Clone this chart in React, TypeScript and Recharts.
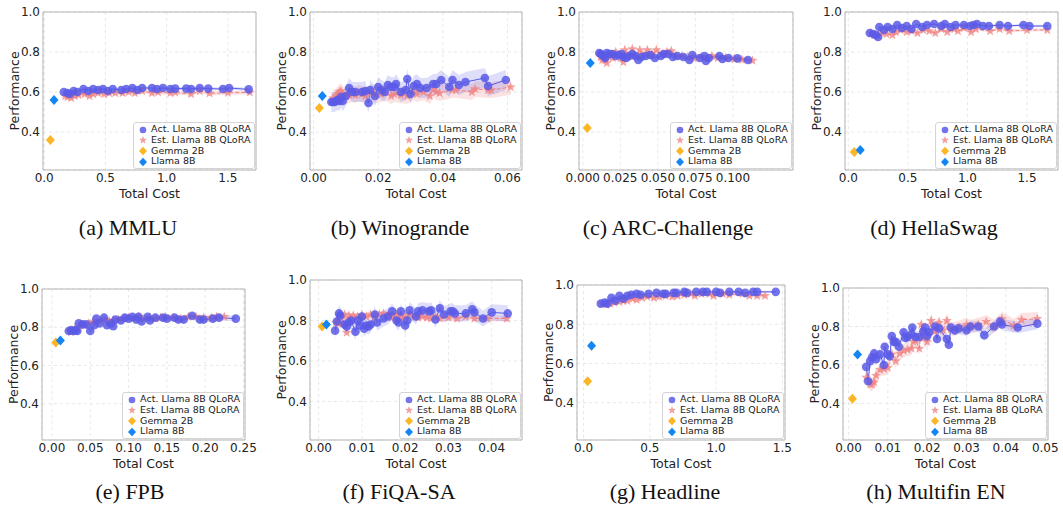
import { ComposedChart, XAxis, YAxis, CartesianGrid, Line, Area, Scatter, ReferenceArea } from 'recharts';

type Pt = [number, number];

const Y_TICKS = [0.4, 0.6, 0.8, 1.0];
const Y_DOMAIN: [number, number] = [0.21, 1.0];

const ACT_COLOR = '#5a5ae6';
const EST_COLOR = '#f08080';
const GEMMA_COLOR = '#fbb525';
const LLAMA_COLOR = '#1485f5';

const LEGEND_LABELS = ['Act. Llama 8B QLoRA', 'Est. Llama 8B QLoRA', 'Gemma 2B', 'Llama 8B'];

// (a) MMLU
const mmluAct: Pt[] = [
  [0.16, 0.60], [0.19, 0.595], [0.21, 0.59], [0.24, 0.605], [0.27, 0.60], [0.32, 0.615], [0.36, 0.605],
  [0.40, 0.615], [0.44, 0.61], [0.48, 0.615], [0.52, 0.605], [0.56, 0.615], [0.63, 0.61], [0.67, 0.615],
  [0.72, 0.62], [0.76, 0.61], [0.80, 0.62], [0.88, 0.62], [0.92, 0.615], [0.97, 0.62], [1.03, 0.615],
  [1.07, 0.617], [1.16, 0.617], [1.20, 0.615], [1.27, 0.62], [1.34, 0.617], [1.46, 0.615], [1.51, 0.62],
  [1.67, 0.613],
];
const mmluEst: Pt[] = [
  [0.17, 0.58], [0.19, 0.575], [0.22, 0.57], [0.25, 0.58], [0.28, 0.585], [0.33, 0.59], [0.37, 0.58],
  [0.40, 0.59], [0.44, 0.595], [0.49, 0.59], [0.53, 0.595], [0.58, 0.595], [0.64, 0.595], [0.69, 0.60],
  [0.74, 0.595], [0.80, 0.605], [0.88, 0.595], [0.93, 0.598], [1.03, 0.595], [1.07, 0.597], [1.20, 0.59],
  [1.27, 0.605], [1.35, 0.593], [1.50, 0.596], [1.68, 0.598],
];
const mmluGemma: Pt = [0.05, 0.36];
const mmluLlama: Pt = [0.08, 0.56];
const mmluTicks = [0, 0.5, 1.0, 1.5];

// (b) Winogrande
const winoAct: Pt[] = [
  [0.0055, 0.55], [0.006, 0.55], [0.0065, 0.55], [0.007, 0.555], [0.0075, 0.56], [0.008, 0.555], [0.0085, 0.575],
  [0.009, 0.555], [0.010, 0.58], [0.011, 0.62], [0.012, 0.60], [0.013, 0.60], [0.015, 0.60], [0.016, 0.605],
  [0.017, 0.545], [0.0175, 0.61], [0.019, 0.58], [0.020, 0.625], [0.021, 0.61], [0.022, 0.60], [0.023, 0.635],
  [0.024, 0.625], [0.025, 0.625], [0.0255, 0.64], [0.027, 0.60], [0.0285, 0.61], [0.029, 0.665], [0.030, 0.59],
  [0.031, 0.63], [0.032, 0.64], [0.033, 0.62], [0.035, 0.62], [0.037, 0.64], [0.038, 0.64], [0.0395, 0.66],
  [0.042, 0.625], [0.043, 0.66], [0.045, 0.635], [0.047, 0.65], [0.053, 0.67], [0.054, 0.63], [0.0595, 0.66],
];
const winoEst: Pt[] = [
  [0.006, 0.57], [0.007, 0.58], [0.0075, 0.59], [0.008, 0.60], [0.0085, 0.605], [0.009, 0.59], [0.010, 0.58],
  [0.011, 0.585], [0.012, 0.59], [0.013, 0.585], [0.014, 0.595], [0.015, 0.59], [0.016, 0.58], [0.018, 0.60],
  [0.019, 0.585], [0.021, 0.59], [0.022, 0.60], [0.024, 0.58], [0.025, 0.59], [0.027, 0.585], [0.029, 0.58],
  [0.031, 0.60], [0.032, 0.59], [0.034, 0.60], [0.036, 0.58], [0.037, 0.615], [0.038, 0.60], [0.039, 0.595],
  [0.043, 0.61], [0.044, 0.61], [0.049, 0.60], [0.050, 0.615], [0.054, 0.61], [0.055, 0.61], [0.061, 0.625],
];
const winoGemma: Pt = [0.0018, 0.52];
const winoLlama: Pt = [0.0027, 0.58];
const winoTicks = [0, 0.02, 0.04, 0.06];

// (c) ARC-Challenge
const arcAct: Pt[] = [
  [0.011, 0.795], [0.012, 0.79], [0.013, 0.785], [0.014, 0.78], [0.015, 0.77], [0.016, 0.795], [0.018, 0.79],
  [0.020, 0.79], [0.022, 0.78], [0.024, 0.785], [0.026, 0.79], [0.027, 0.775], [0.029, 0.77], [0.031, 0.78],
  [0.033, 0.79], [0.035, 0.78], [0.037, 0.76], [0.039, 0.775], [0.042, 0.78], [0.045, 0.785], [0.048, 0.77],
  [0.052, 0.78], [0.054, 0.79], [0.057, 0.79], [0.060, 0.775], [0.063, 0.78], [0.067, 0.775], [0.071, 0.76],
  [0.073, 0.785], [0.078, 0.77], [0.081, 0.78], [0.082, 0.755], [0.084, 0.77], [0.091, 0.78], [0.093, 0.765],
  [0.097, 0.77], [0.103, 0.768], [0.110, 0.76],
];
const arcEst: Pt[] = [
  [0.012, 0.775], [0.013, 0.76], [0.015, 0.76], [0.016, 0.745], [0.017, 0.78], [0.020, 0.77], [0.022, 0.80],
  [0.025, 0.77], [0.027, 0.75], [0.028, 0.81], [0.030, 0.78], [0.033, 0.815], [0.035, 0.78], [0.038, 0.81],
  [0.040, 0.785], [0.043, 0.81], [0.046, 0.79], [0.049, 0.81], [0.053, 0.79], [0.056, 0.80], [0.059, 0.805],
  [0.062, 0.78], [0.066, 0.78], [0.070, 0.775], [0.074, 0.77], [0.079, 0.775], [0.083, 0.77], [0.086, 0.78],
  [0.090, 0.77], [0.095, 0.77], [0.101, 0.765], [0.106, 0.762], [0.113, 0.757],
];
const arcGemma: Pt = [0.003, 0.42];
const arcLlama: Pt = [0.005, 0.745];
const arcTicks = [0, 0.025, 0.05, 0.075, 0.1];

// (d) HellaSwag
const hellaAct: Pt[] = [
  [0.18, 0.895], [0.21, 0.89], [0.23, 0.885], [0.25, 0.875], [0.26, 0.925], [0.30, 0.91], [0.33, 0.925],
  [0.37, 0.915], [0.41, 0.935], [0.45, 0.92], [0.49, 0.93], [0.53, 0.915], [0.57, 0.94], [0.62, 0.925],
  [0.66, 0.935], [0.72, 0.94], [0.78, 0.93], [0.81, 0.94], [0.86, 0.925], [0.90, 0.935], [0.97, 0.935],
  [1.02, 0.93], [1.05, 0.935], [1.08, 0.94], [1.13, 0.93], [1.18, 0.93], [1.27, 0.935], [1.34, 0.93],
  [1.47, 0.935], [1.52, 0.93], [1.67, 0.93],
];
const hellaEst: Pt[] = [
  [0.19, 0.895], [0.22, 0.885], [0.25, 0.88], [0.28, 0.895], [0.32, 0.89], [0.37, 0.885], [0.40, 0.90],
  [0.44, 0.91], [0.49, 0.90], [0.53, 0.905], [0.58, 0.895], [0.63, 0.91], [0.68, 0.905], [0.73, 0.895],
  [0.78, 0.915], [0.83, 0.90], [0.89, 0.915], [0.92, 0.905], [0.97, 0.92], [1.03, 0.90], [1.07, 0.915],
  [1.19, 0.905], [1.27, 0.915], [1.35, 0.905], [1.50, 0.91], [1.67, 0.91],
];
const hellaGemma: Pt = [0.05, 0.30];
const hellaLlama: Pt = [0.10, 0.31];
const hellaTicks = [0, 0.5, 1.0, 1.5];

// (e) FPB
const fpbAct: Pt[] = [
  [0.022, 0.78], [0.025, 0.785], [0.028, 0.78], [0.031, 0.785], [0.033, 0.78], [0.035, 0.82], [0.040, 0.815],
  [0.045, 0.815], [0.050, 0.78], [0.055, 0.81], [0.058, 0.845], [0.062, 0.82], [0.068, 0.85], [0.072, 0.81],
  [0.077, 0.82], [0.080, 0.805], [0.083, 0.84], [0.090, 0.835], [0.095, 0.85], [0.100, 0.845], [0.105, 0.855],
  [0.110, 0.84], [0.113, 0.855], [0.117, 0.83], [0.125, 0.855], [0.128, 0.835], [0.135, 0.85], [0.145, 0.85],
  [0.150, 0.845], [0.160, 0.85], [0.165, 0.84], [0.172, 0.84], [0.183, 0.86], [0.193, 0.84], [0.198, 0.84],
  [0.210, 0.845], [0.218, 0.85], [0.240, 0.845],
];
const fpbEst: Pt[] = [
  [0.025, 0.775], [0.030, 0.79], [0.034, 0.79], [0.037, 0.81], [0.042, 0.81], [0.048, 0.82], [0.054, 0.83],
  [0.058, 0.825], [0.064, 0.835], [0.070, 0.84], [0.075, 0.83], [0.080, 0.835], [0.087, 0.84], [0.094, 0.845],
  [0.100, 0.85], [0.107, 0.845], [0.113, 0.855], [0.120, 0.845], [0.128, 0.85], [0.135, 0.845], [0.142, 0.85],
  [0.148, 0.855], [0.158, 0.85], [0.168, 0.845], [0.178, 0.855], [0.188, 0.855], [0.198, 0.85], [0.208, 0.85],
  [0.215, 0.855], [0.225, 0.855],
];
const fpbGemma: Pt = [0.005, 0.72];
const fpbLlama: Pt = [0.011, 0.73];
const fpbTicks = [0, 0.05, 0.1, 0.15, 0.2, 0.25];

// (f) FiQA-SA
const fiqaAct: Pt[] = [
  [0.0038, 0.75], [0.0042, 0.795], [0.0047, 0.835], [0.005, 0.825], [0.006, 0.78], [0.0065, 0.77], [0.007, 0.79],
  [0.0075, 0.80], [0.0085, 0.745], [0.009, 0.80], [0.0095, 0.775], [0.010, 0.82], [0.0105, 0.76], [0.011, 0.775],
  [0.0115, 0.77], [0.012, 0.78], [0.013, 0.83], [0.0135, 0.79], [0.015, 0.81], [0.016, 0.82], [0.017, 0.845],
  [0.018, 0.80], [0.0185, 0.79], [0.019, 0.845], [0.020, 0.775], [0.0205, 0.80], [0.021, 0.85], [0.0225, 0.82],
  [0.023, 0.845], [0.024, 0.85], [0.0255, 0.845], [0.026, 0.85], [0.027, 0.805], [0.028, 0.86], [0.029, 0.83],
  [0.0305, 0.845], [0.031, 0.845], [0.0315, 0.835], [0.034, 0.835], [0.0355, 0.855], [0.036, 0.84], [0.038, 0.81],
  [0.040, 0.84], [0.0437, 0.835],
];
const fiqaEst: Pt[] = [
  [0.004, 0.79], [0.0045, 0.785], [0.005, 0.79], [0.0055, 0.785], [0.006, 0.83], [0.0065, 0.74], [0.007, 0.825],
  [0.0075, 0.81], [0.008, 0.825], [0.009, 0.82], [0.010, 0.825], [0.011, 0.82], [0.012, 0.83], [0.013, 0.815],
  [0.014, 0.83], [0.015, 0.835], [0.016, 0.825], [0.017, 0.815], [0.018, 0.83], [0.019, 0.815], [0.020, 0.82],
  [0.021, 0.83], [0.022, 0.82], [0.023, 0.815], [0.024, 0.82], [0.025, 0.815], [0.026, 0.81], [0.027, 0.82],
  [0.028, 0.81], [0.030, 0.815], [0.032, 0.81], [0.034, 0.82], [0.036, 0.81], [0.039, 0.81], [0.0435, 0.81],
];
const fiqaGemma: Pt = [0.0008, 0.77];
const fiqaLlama: Pt = [0.0018, 0.78];
const fiqaTicks = [0, 0.01, 0.02, 0.03, 0.04];

// (g) Headline
const headAct: Pt[] = [
  [0.13, 0.905], [0.16, 0.91], [0.18, 0.905], [0.21, 0.935], [0.24, 0.92], [0.27, 0.945], [0.30, 0.93],
  [0.33, 0.945], [0.36, 0.95], [0.40, 0.955], [0.43, 0.95], [0.49, 0.955], [0.55, 0.96], [0.60, 0.955],
  [0.62, 0.955], [0.68, 0.96], [0.70, 0.96], [0.76, 0.965], [0.78, 0.96], [0.85, 0.965], [0.90, 0.965],
  [0.93, 0.965], [1.00, 0.965], [1.03, 0.96], [1.10, 0.965], [1.17, 0.965], [1.22, 0.96], [1.28, 0.965],
  [1.31, 0.965], [1.45, 0.965],
];
const headEst: Pt[] = [
  [0.14, 0.905], [0.17, 0.90], [0.20, 0.905], [0.23, 0.91], [0.27, 0.915], [0.30, 0.92], [0.33, 0.92],
  [0.37, 0.93], [0.40, 0.925], [0.44, 0.935], [0.48, 0.94], [0.53, 0.935], [0.57, 0.94], [0.62, 0.945],
  [0.67, 0.94], [0.71, 0.945], [0.76, 0.95], [0.81, 0.955], [0.84, 0.945], [0.89, 0.955], [0.95, 0.955],
  [0.98, 0.945], [1.05, 0.955], [1.10, 0.95], [1.20, 0.955], [1.25, 0.945], [1.31, 0.945], [1.37, 0.945],
];
const headGemma: Pt = [0.03, 0.51];
const headLlama: Pt = [0.06, 0.69];
const headTicks = [0, 0.5, 1.0, 1.5];

// (h) Multifin EN
const mfinAct: Pt[] = [
  [0.0045, 0.59], [0.005, 0.515], [0.0055, 0.62], [0.006, 0.64], [0.0065, 0.66], [0.007, 0.63], [0.008, 0.655],
  [0.009, 0.60], [0.0092, 0.695], [0.010, 0.655], [0.0105, 0.645], [0.011, 0.75], [0.0115, 0.72], [0.012, 0.72],
  [0.0128, 0.695], [0.014, 0.77], [0.0145, 0.74], [0.015, 0.745], [0.016, 0.76], [0.0162, 0.795], [0.017, 0.745],
  [0.018, 0.745], [0.019, 0.775], [0.0195, 0.795], [0.020, 0.75], [0.0205, 0.77], [0.022, 0.80], [0.0225, 0.735],
  [0.023, 0.79], [0.025, 0.735], [0.0255, 0.705], [0.026, 0.795], [0.027, 0.78], [0.028, 0.79], [0.030, 0.78],
  [0.031, 0.80], [0.033, 0.80], [0.0345, 0.755], [0.037, 0.80], [0.0385, 0.825], [0.039, 0.81], [0.043, 0.795],
  [0.048, 0.815],
];
const mfinEst: Pt[] = [
  [0.0045, 0.535], [0.0055, 0.50], [0.006, 0.50], [0.0065, 0.51], [0.007, 0.545], [0.008, 0.575], [0.009, 0.58],
  [0.010, 0.585], [0.011, 0.655], [0.012, 0.62], [0.013, 0.66], [0.014, 0.675], [0.015, 0.68], [0.016, 0.685],
  [0.0165, 0.72], [0.017, 0.73], [0.018, 0.685], [0.0185, 0.81], [0.019, 0.74], [0.020, 0.72], [0.021, 0.83],
  [0.022, 0.775], [0.023, 0.82], [0.024, 0.78], [0.025, 0.83], [0.026, 0.785], [0.028, 0.795], [0.030, 0.81],
  [0.031, 0.80], [0.033, 0.81], [0.035, 0.825], [0.037, 0.80], [0.039, 0.84], [0.042, 0.805], [0.044, 0.835],
  [0.048, 0.84],
];
const mfinGemma: Pt = [0.001, 0.425];
const mfinLlama: Pt = [0.0023, 0.655];
const mfinTicks = [0, 0.01, 0.02, 0.03, 0.04, 0.05];

// half-widths of the shaded bands [act, est]
const bandSpread: Record<string, [number, number]> = {
  mmlu: [0.008, 0.01],
  wino: [0.05, 0.04],
  arc: [0.01, 0.015],
  hella: [0.006, 0.008],
  fpb: [0.015, 0.015],
  fiqa: [0.04, 0.015],
  head: [0.006, 0.01],
  mfin: [0.03, 0.035],
};

interface PanelCfg {
  key: string;
  caption: string;
  act: Pt[];
  est: Pt[];
  gemma: Pt;
  llama: Pt;
  ticks: number[];
  dec: number;
  xDomain: [number, number];
  plot: { l: number; t: number; r: number; b: number };
  capX: number;
  capY: number;
}

const PANELS: PanelCfg[] = [
  { key: 'mmlu', caption: '(a) MMLU', act: mmluAct, est: mmluEst, gemma: mmluGemma, llama: mmluLlama, ticks: mmluTicks, dec: 1, xDomain: [-0.01, 1.73], plot: { l: 43, t: 12, r: 256, b: 170 }, capX: 128, capY: 228 },
  { key: 'wino', caption: '(b) Winogrande', act: winoAct, est: winoEst, gemma: winoGemma, llama: winoLlama, ticks: winoTicks, dec: 2, xDomain: [-0.0011, 0.0645], plot: { l: 310, t: 12, r: 522, b: 170 }, capX: 400, capY: 228 },
  { key: 'arc', caption: '(c) ARC-Challenge', act: arcAct, est: arcEst, gemma: arcGemma, llama: arcLlama, ticks: arcTicks, dec: 3, xDomain: [-0.0025, 0.14], plot: { l: 579, t: 12, r: 793, b: 170 }, capX: 668, capY: 228 },
  { key: 'hella', caption: '(d) HellaSwag', act: hellaAct, est: hellaEst, gemma: hellaGemma, llama: hellaLlama, ticks: hellaTicks, dec: 1, xDomain: [-0.028, 1.76], plot: { l: 845, t: 12, r: 1058, b: 170 }, capX: 934, capY: 228 },
  { key: 'fpb', caption: '(e) FPB', act: fpbAct, est: fpbEst, gemma: fpbGemma, llama: fpbLlama, ticks: fpbTicks, dec: 2, xDomain: [-0.013, 0.252], plot: { l: 42, t: 289, r: 245, b: 440 }, capX: 130, capY: 492 },
  { key: 'fiqa', caption: '(f) FiQA-SA', act: fiqaAct, est: fiqaEst, gemma: fiqaGemma, llama: fiqaLlama, ticks: fiqaTicks, dec: 2, xDomain: [-0.002, 0.047], plot: { l: 310, t: 280, r: 522, b: 440 }, capX: 399, capY: 492 },
  { key: 'head', caption: '(g) Headline', act: headAct, est: headEst, gemma: headGemma, llama: headLlama, ticks: headTicks, dec: 1, xDomain: [-0.05, 1.52], plot: { l: 577, t: 285, r: 785, b: 440 }, capX: 665, capY: 492 },
  { key: 'mfin', caption: '(h) Multifin EN', act: mfinAct, est: mfinEst, gemma: mfinGemma, llama: mfinLlama, ticks: mfinTicks, dec: 2, xDomain: [-0.0014, 0.0507], plot: { l: 843, t: 288, r: 1048, b: 440 }, capX: 936, capY: 492 },
];

const FONT = "'DejaVu Sans', sans-serif";

const dot = (p: any) => (
  <circle cx={p.cx} cy={p.cy} r={4.3} fill={ACT_COLOR} fillOpacity={0.85} />
);

function starPath(cx: number, cy: number, ro: number, ri: number) {
  let d = '';
  for (let i = 0; i < 10; i++) {
    const r = i % 2 === 0 ? ro : ri;
    const a = -Math.PI / 2 + (i * Math.PI) / 5;
    d += (i === 0 ? 'M' : 'L') + (cx + r * Math.cos(a)).toFixed(2) + ',' + (cy + r * Math.sin(a)).toFixed(2);
  }
  return d + 'Z';
}

const star = (p: any) => <path d={starPath(p.cx, p.cy, 5.2, 2.2)} fill={EST_COLOR} fillOpacity={0.75} />;

const diamond = (color: string) => (p: any) => (
  <path d={`M${p.cx},${p.cy - 5}L${p.cx + 4.5},${p.cy}L${p.cx},${p.cy + 5}L${p.cx - 4.5},${p.cy}Z`} fill={color} />
);

function LegendBox() {
  const icons = [
    <circle cx={5} cy={5} r={3.3} fill={ACT_COLOR} fillOpacity={0.85} />,
    <path d={starPath(5, 5.3, 4.2, 1.8)} fill={EST_COLOR} fillOpacity={0.75} />,
    <path d="M5,0.8L9,5L5,9.2L1,5Z" fill={GEMMA_COLOR} />,
    <path d="M5,0.8L9,5L5,9.2L1,5Z" fill={LLAMA_COLOR} />,
  ];
  return (
    <div
      style={{
        padding: '1px 3px 1px 4px',
        border: '1px solid #d4d4d4', borderRadius: 3, background: 'rgba(255,255,255,0.85)',
        fontFamily: FONT, fontSize: 9.5, color: '#222', lineHeight: '10.7px',
      }}
    >
      {LEGEND_LABELS.map((lab, i) => (
        <div key={lab} style={{ display: 'flex', alignItems: 'center', whiteSpace: 'nowrap' }}>
          <svg width={10} height={10} style={{ marginRight: 3 }}>{icons[i]}</svg>
          {lab}
        </div>
      ))}
    </div>
  );
}

const ML = 45, MT = 10, MR = 14, XH = 34;

function Panel({ cfg }: { cfg: PanelCfg }) {
  const { l, t, r, b } = cfg.plot;
  const w = r - l + ML + MR;
  const h = b - t + MT + XH;
  const [sa, se] = bandSpread[cfg.key];
  const act = cfg.act.map(([x, y]) => ({ x, y, band: [y - sa, y + sa] }));
  const est = cfg.est.map(([x, y]) => ({ x, y, band: [y - se, y + se] }));
  const tickStyle = { fontSize: 12, fill: '#222', fontFamily: FONT };
  const labelStyle = { fontSize: 12.5, fill: '#222', fontFamily: FONT };
  return (
    <div style={{ position: 'absolute', left: l - ML, top: t - MT, width: w, height: h }}>
      <ComposedChart width={w} height={h} margin={{ top: MT, right: MR, left: 0, bottom: 0 }}>
        <CartesianGrid stroke="#e8e8e8" strokeDasharray="3 3" />
        <XAxis
          dataKey="x" type="number" domain={cfg.xDomain} ticks={cfg.ticks} allowDataOverflow
          tickFormatter={(v: number) => v.toFixed(cfg.dec)} tickLine={false} axisLine={false}
          height={XH} tickSize={2} tickMargin={1} tick={tickStyle} interval={0}
          label={{ value: 'Total Cost', position: 'insideBottom', offset: 6, style: labelStyle }}
        />
        <YAxis
          type="number" domain={Y_DOMAIN} ticks={Y_TICKS} allowDataOverflow width={ML}
          tickFormatter={(v: number) => v.toFixed(1)} tickLine={false} axisLine={false}
          tickSize={2} tickMargin={1} tick={tickStyle} interval={0}
          label={{ value: 'Performance', angle: -90, position: 'insideLeft', offset: 17, style: { ...labelStyle, textAnchor: 'middle' } }}
        />
        <Area data={est} dataKey="band" stroke="none" fill={EST_COLOR} fillOpacity={0.22} isAnimationActive={false} />
        <Area data={act} dataKey="band" stroke="none" fill={ACT_COLOR} fillOpacity={0.2} isAnimationActive={false} />
        <Line data={est} dataKey="y" stroke={EST_COLOR} strokeWidth={1} strokeDasharray="4 2" dot={false} activeDot={false} isAnimationActive={false} />
        <Scatter data={est} dataKey="y" shape={star} isAnimationActive={false} />
        <Line data={act} dataKey="y" stroke={ACT_COLOR} strokeWidth={1} dot={false} activeDot={false} isAnimationActive={false} />
        <Scatter data={act} dataKey="y" shape={dot} isAnimationActive={false} />
        <Scatter data={[{ x: cfg.gemma[0], y: cfg.gemma[1] }]} dataKey="y" shape={diamond(GEMMA_COLOR)} isAnimationActive={false} />
        <Scatter data={[{ x: cfg.llama[0], y: cfg.llama[1] }]} dataKey="y" shape={diamond(LLAMA_COLOR)} isAnimationActive={false} />
        <ReferenceArea x1={cfg.xDomain[0]} x2={cfg.xDomain[1]} y1={Y_DOMAIN[0]} y2={Y_DOMAIN[1]} fill="none" stroke="#b5b5b5" strokeWidth={1} ifOverflow="visible" />
      </ComposedChart>
      <div style={{ position: 'absolute', right: MR + 1, bottom: XH + 1 }}>
        <LegendBox />
      </div>
    </div>
  );
}

export default function App() {
  return (
    <div style={{ position: 'absolute', left: 0, top: 0, width: 1063, height: 508, background: '#fff', overflow: 'hidden' }}>
      {PANELS.map(cfg => (
        <Panel key={cfg.key} cfg={cfg} />
      ))}
      {PANELS.map(cfg => (
        <div
          key={cfg.key + '-cap'}
          style={{
            position: 'absolute', left: cfg.capX, top: cfg.capY, transform: 'translate(-50%, -50%)',
            fontFamily: "'Liberation Serif', 'Times New Roman', serif", fontSize: 22, color: '#111', whiteSpace: 'nowrap',
          }}
        >
          {cfg.caption}
        </div>
      ))}
    </div>
  );
}
